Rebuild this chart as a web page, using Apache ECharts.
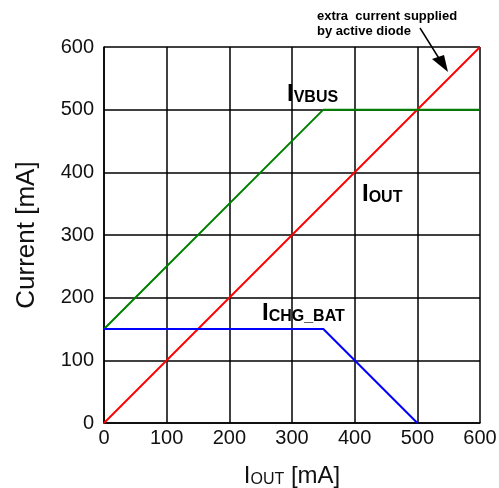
<!DOCTYPE html>
<html><head><meta charset="utf-8">
<script src="https://cdn.jsdelivr.net/npm/echarts@6/dist/echarts.min.js"></script>
<style>html,body{margin:0;padding:0;background:#fff}#c{width:499px;height:488px}</style>
</head><body><div id="c"></div>
<script>
const xTicks = [0, 100, 200, 300, 400, 500, 600];
const yTicks = [0, 100, 200, 300, 400, 500, 600];
const vbusX = [0, 350, 600];
const vbusY = [150, 500, 500];
const ioutX = [0, 600];
const ioutY = [0, 600];
const chgX = [0, 350, 500];
const chgY = [150, 150, 0];
const annotationText = ['extra  current supplied', 'by active diode'];

const pair = (xs, ys) => xs.map((x, i) => [x, ys[i]]);
const F = 'Liberation Sans, Arial, sans-serif';
const chart = echarts.init(document.getElementById('c'), null, {renderer: 'canvas'});

function lbl(main, sub, x, y) {
  return {
    type: 'text', left: x, top: y, z: 10,
    style: {
      text: '{a|' + main + '}{b|' + sub + '}',
      rich: {
        a: {fontFamily: F, fontWeight: 'bold', fontSize: 24, lineHeight: 32, fill: '#000', verticalAlign: 'bottom'},
        b: {fontFamily: F, fontWeight: 'bold', fontSize: 16, lineHeight: 16, fill: '#000', verticalAlign: 'bottom'}
      }
    }
  };
}

chart.setOption({
  animation: false,
  grid: {left: 104, right: 19, top: 47, bottom: 65, containLabel: false, outerBoundsMode: 'none'},
  xAxis: {
    type: 'value', min: 0, max: 600, interval: 100,
    name: '{a|I}{b|OUT}{a| [mA]}', nameLocation: 'middle', nameGap: 39,
    nameTextStyle: {
      rich: {
        a: {fontFamily: F, fontSize: 24, color: '#111', lineHeight: 26, verticalAlign: 'bottom'},
        b: {fontFamily: F, fontSize: 16, color: '#111', lineHeight: 16, verticalAlign: 'bottom'}
      }
    },
    axisLine: {show: true, lineStyle: {color: '#000', width: 1.5}},
    axisTick: {show: false},
    splitLine: {show: true, lineStyle: {color: '#000', width: 1.5}},
    axisLabel: {fontFamily: F, fontSize: 20, color: '#111', margin: 5,
      formatter: v => xTicks.includes(v) ? String(v) : ''}
  },
  yAxis: {
    type: 'value', min: 0, max: 600, interval: 100,
    name: 'Current [mA]', nameLocation: 'middle', nameGap: 64,
    nameTextStyle: {fontFamily: F, fontSize: 26, color: '#111'},
    axisLine: {show: true, lineStyle: {color: '#000', width: 1.5}},
    axisTick: {show: false},
    splitLine: {show: true, lineStyle: {color: '#000', width: 1.5}},
    axisLabel: {fontFamily: F, fontSize: 20, color: '#111', margin: 10,
      formatter: v => yTicks.includes(v) ? String(v) : ''}
  },
  series: [
    {type: 'line', data: pair(ioutX, ioutY), symbol: 'none', lineStyle: {color: '#ff0000', width: 2}, z: 3},
    {type: 'line', data: pair(vbusX, vbusY), symbol: 'none', lineStyle: {color: '#008000', width: 2}, z: 4},
    {type: 'line', data: pair(chgX, chgY), symbol: 'none', lineStyle: {color: '#0000ff', width: 2}, z: 4}
  ],
  graphic: [
    lbl('I', 'VBUS', 287, 82),
    lbl('I', 'OUT', 362, 182),
    lbl('I', 'CHG_BAT', 262, 301),
    {type: 'text', left: 317, top: 9, z: 10,
      style: {text: annotationText.join('\n'), fontFamily: F, fontWeight: 'bold', fontSize: 13, lineHeight: 15, fill: '#000'}},
    {type: 'polyline', z: 10, shape: {points: [[420, 28], [440, 60]]}, style: {stroke: '#000', lineWidth: 1.5}},
    {type: 'polygon', z: 10, shape: {points: [[448, 72], [432, 59], [444, 55]]}, style: {fill: '#000'}}
  ]
});
</script></body></html>
